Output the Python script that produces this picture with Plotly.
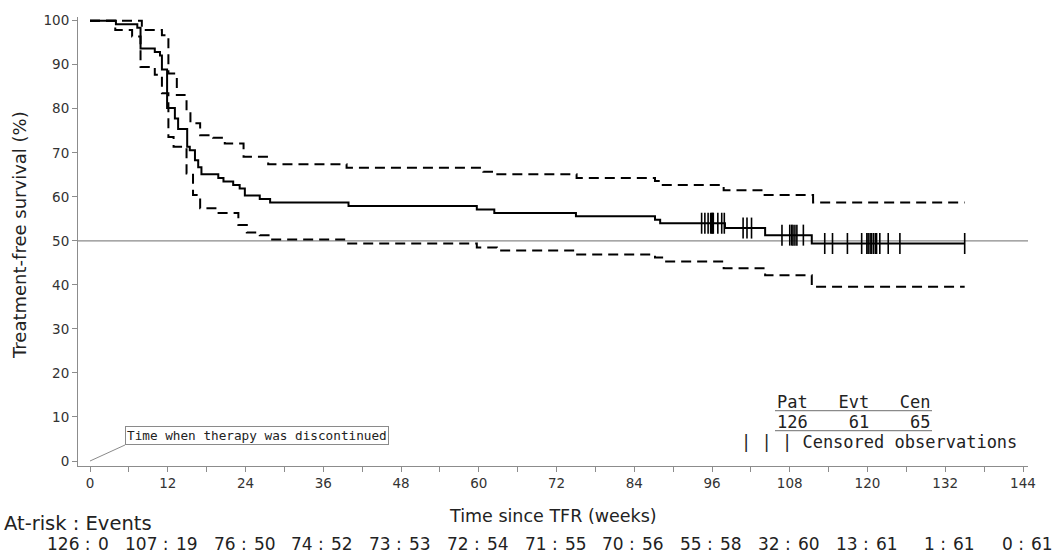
import numpy as np
import plotly.graph_objects as go

# ---------------- data ----------------
surv_t = [0, 4.0, 7.3, 7.8, 10.0, 10.8, 11.1, 11.9, 13.1, 13.6, 15.0, 15.4, 16.2, 16.7, 17.2,
          19.8, 20.6, 22.1, 23.1, 23.9, 26.2, 27.8, 39.9, 59.7, 62.4, 75.0, 87.2, 88.0,
          98.0, 104.2, 111.4, 135.0]
surv_s = [100, 99.2, 98.4, 93.7, 92.9, 92.1, 88.9, 80.2, 77.8, 75.4, 71.4, 70.6, 68.3, 66.7, 65.1,
          64.3, 63.5, 62.7, 61.9, 60.3, 59.5, 58.7, 57.9, 57.1, 56.3, 55.6, 54.8, 54.0,
          52.9, 51.3, 49.4, 49.4]

upper_t = [0, 8.0, 11.1, 12.1, 13.4, 14.9, 15.5, 17.0, 19.0, 20.8, 23.7, 27.5, 39.6, 60.7, 62.2,
           75.1, 87.2, 88.0, 97.8, 103.9, 111.6, 135.0]
upper_s = [100, 97.9, 96.7, 88.0, 83.1, 79.5, 76.7, 74.0, 73.4, 72.1, 69.1, 67.4, 66.6, 65.7, 65.1,
           64.3, 63.6, 62.7, 61.5, 60.4, 58.7, 58.7]

lower_t = [0, 3.9, 6.5, 7.8, 10.0, 11.1, 12.1, 12.9, 14.9, 15.9, 17.0, 19.6, 22.9, 24.2, 26.2,
           27.8, 39.6, 59.7, 62.8, 74.9, 87.2, 88.5, 97.8, 104.2, 111.4, 135.0]
lower_s = [100, 97.9, 96.4, 89.5, 87.7, 83.5, 73.6, 71.4, 65.3, 60.4, 57.4, 56.3, 53.6, 51.9, 51.3,
           50.3, 49.4, 48.5, 47.8, 46.9, 46.2, 45.3, 43.8, 42.2, 39.6, 39.6]

censor_t = [94.4, 94.9, 95.4, 95.8, 95.95, 96.1, 96.2, 96.9, 97.5, 97.9,
            100.8, 101.4, 102.1,
            106.8, 108.0, 108.3, 108.5, 108.8, 109.1, 110.1,
            113.4, 114.6, 116.9, 119.1, 119.9, 120.1, 120.4, 120.6, 120.9, 121.2, 121.4,
            121.9, 123.2, 125.0, 135.0]

risk_times = [0, 12, 24, 36, 48, 60, 72, 84, 96, 108, 120, 132, 144]
at_risk = [126, 107, 76, 74, 73, 72, 71, 70, 55, 32, 13, 1, 0]
events = [0, 19, 50, 52, 53, 54, 55, 56, 58, 60, 61, 61, 61]

x_tickvals = list(range(0, 145, 6))
x_ticklabels = [str(v) if v % 12 == 0 else "" for v in x_tickvals]
y_tickvals = list(range(0, 101, 10))

summary_header = "Pat   Evt   Cen"
summary_values = "126    61    65"
censor_legend = "| | | Censored observations"
note_text = "Time when therapy was discontinued"

# ---------------- layout helpers ----------------
W, H = 1064, 556
L, R, T, B = 78, 36, 17, 90
PX_LEFT, PX_RIGHT, PY_TOP, PY_BOT = L, W - R, T, H - B


def pxx(px):
    return (px - PX_LEFT) / (PX_RIGHT - PX_LEFT)


def pyy(py):
    return (PY_BOT - py) / (PY_BOT - PY_TOP)


def step_lookup(t_arr, s_arr, t):
    i = np.searchsorted(np.array(t_arr), t, side="right") - 1
    return s_arr[max(i, 0)]


censor_s = [step_lookup(surv_t, surv_s, t) for t in censor_t]

FONT = "DejaVu Sans"
MONO = "DejaVu Sans Mono"
TXT = "#222222"
AX = "#8c8c8c"

fig = go.Figure()

dash = "10px,6px"
fig.add_trace(go.Scatter(x=upper_t, y=upper_s, mode="lines", line_shape="hv",
                         line=dict(color="black", width=2, dash=dash), hoverinfo="skip"))
fig.add_trace(go.Scatter(x=lower_t, y=lower_s, mode="lines", line_shape="hv",
                         line=dict(color="black", width=2, dash=dash), hoverinfo="skip"))
fig.add_trace(go.Scatter(x=surv_t, y=surv_s, mode="lines", line_shape="hv",
                         line=dict(color="black", width=2), hoverinfo="skip"))
fig.add_trace(go.Scatter(x=censor_t, y=censor_s, mode="markers",
                         marker=dict(symbol="line-ns", size=15,
                                     line=dict(color="black", width=1.6)),
                         hoverinfo="skip"))

shapes = [
    dict(type="line", xref="paper", yref="y", x0=0, x1=1, y0=50, y1=50,
         line=dict(color="#8a8a8a", width=1.2), layer="below"),
    dict(type="line", xref="x", yref="y", xsizemode="pixel", ysizemode="pixel",
         xanchor=0, yanchor=0, x0=0, y0=0, x1=35, y1=16,
         line=dict(color="#8a8a8a", width=1)),
    dict(type="line", xref="paper", yref="paper", x0=pxx(775), x1=pxx(932),
         y0=pyy(410.7), y1=pyy(410.7), line=dict(color="#8a8a8a", width=1.2)),
    dict(type="line", xref="paper", yref="paper", x0=pxx(775), x1=pxx(932),
         y0=pyy(430.7), y1=pyy(430.7), line=dict(color="#8a8a8a", width=1.2)),
]

ann = []
ann.append(dict(text=note_text, xref="paper", yref="paper", x=pxx(125), y=pyy(445),
                xanchor="left", yanchor="bottom", showarrow=False,
                font=dict(family=MONO, size=12.7, color=TXT),
                bordercolor="#8a8a8a", borderwidth=1, borderpad=1, bgcolor="white"))
for txt, px, py in [(summary_header, 776, 401.7), (summary_values, 776, 421.7),
                    (censor_legend, 740, 441.7)]:
    ann.append(dict(text=txt, xref="paper", yref="paper", x=pxx(px) - 0.001, y=pyy(py),
                    xanchor="left", yanchor="middle", showarrow=False,
                    font=dict(family=MONO, size=17, color=TXT)))

# axis titles
ann.append(dict(text="Time since TFR (weeks)", xref="paper", yref="paper", x=pxx(553),
                y=pyy(516), xanchor="center", yanchor="middle", showarrow=False,
                font=dict(family=FONT, size=17.5, color=TXT)))
ann.append(dict(text="Treatment-free survival (%)", xref="paper", yref="paper", x=pxx(19),
                y=pyy(235), xanchor="center", yanchor="middle", textangle=-90,
                showarrow=False, font=dict(family=FONT, size=18, color=TXT)))

# at-risk table
ann.append(dict(text="At-risk : Events", xref="paper", yref="paper", x=pxx(3),
                y=pyy(523), xanchor="left", yanchor="middle", showarrow=False,
                borderpad=0, font=dict(family=FONT, size=19.5, color=TXT)))
row_y = pyy(544)
for t, n, e in zip(risk_times, at_risk, events):
    ann.append(dict(text=f"{n} :", xref="x", yref="paper", x=t, y=row_y, xanchor="right",
                    yanchor="middle", xshift=2, showarrow=False, borderpad=0,
                    font=dict(family=FONT, size=17, color=TXT)))
    ann.append(dict(text=str(e), xref="x", yref="paper", x=t, y=row_y, xanchor="left",
                    yanchor="middle", xshift=7, showarrow=False, borderpad=0,
                    font=dict(family=FONT, size=17, color=TXT)))

x_per_px = 144 / (1023 - 90)
y_per_px = 100 / (461 - 20.7)

fig.update_layout(
    width=W, height=H,
    margin=dict(l=L, r=R, t=T, b=B, autoexpand=False),
    paper_bgcolor="white", plot_bgcolor="white",
    showlegend=False,
    shapes=shapes, annotations=ann,
    font=dict(family=FONT, color=TXT),
    xaxis=dict(range=[0 - (90 - PX_LEFT) * x_per_px, 144 + (PX_RIGHT - 1023) * x_per_px],
               tickvals=x_tickvals, ticktext=x_ticklabels, ticks="outside", ticklen=5,
               tickcolor=AX, showline=True, linecolor=AX, linewidth=1, showgrid=False,
               zeroline=False, automargin=False,
               tickfont=dict(family=FONT, size=13.5, color="#333333")),
    yaxis=dict(range=[0 - (PY_BOT - 461) * y_per_px, 100 + (20.7 - PY_TOP) * y_per_px],
               tickvals=y_tickvals, ticks="outside", ticklen=5, tickcolor=AX,
               showline=True, linecolor=AX, linewidth=1, showgrid=False, zeroline=False,
               automargin=False,
               tickfont=dict(family=FONT, size=13.5, color="#333333")),
)

fig.write_html("out.html", config={"displayModeBar": False},
               post_script="document.body.style.margin='0px';")
